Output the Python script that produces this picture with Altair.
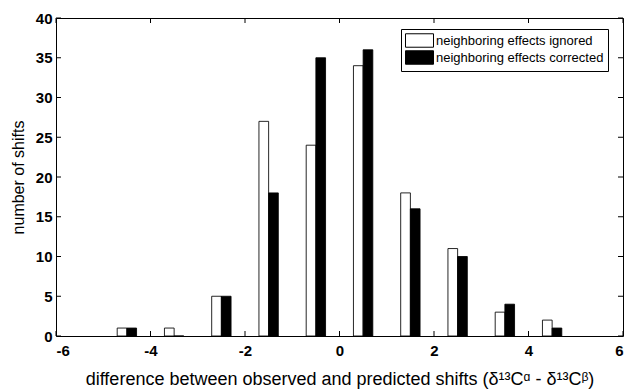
import altair as alt
import pandas as pd

# ---- data ----
centers = [-4.5, -3.5, -2.5, -1.5, -0.5, 0.5, 1.5, 2.5, 3.5, 4.5]
ignored = [1, 1, 5, 27, 24, 34, 18, 11, 3, 2]
corrected = [1, 0, 5, 18, 35, 36, 16, 10, 4, 1]
series_names = ["neighboring effects ignored", "neighboring effects corrected"]
x_ticks = [-6, -4, -2, 0, 2, 4, 6]
y_ticks = [0, 5, 10, 15, 20, 25, 30, 35, 40]

W, H = 567, 318
BAR_W = 0.205
FONT = "Liberation Sans"

rows = []
for c, a, b in zip(centers, ignored, corrected):
    rows.append({"series": series_names[0], "x0": c - BAR_W, "x1": c, "count": a, "base": 0})
    rows.append({"series": series_names[1], "x0": c, "x1": c + BAR_W, "count": b, "base": 0})
df = pd.DataFrame(rows)

xscale = alt.Scale(domain=[-6, 6], nice=False, zero=False)
yscale = alt.Scale(domain=[0, 40], nice=False)

xaxis = alt.Axis(values=x_ticks, ticks=False, domain=False, grid=False,
                 labelExpr="'' + datum.value", labelOverlap=False,
                 labelFontSize=15, labelFontWeight="bold", labelFont=FONT,
                 labelPadding=7, labelColor="black",
                 title="difference between observed and predicted shifts (δ¹³Cᵅ - δ¹³Cᵝ)",
                 titleFont=FONT, titleFontSize=18, titleFontWeight="normal",
                 titlePadding=12, titleColor="black")
yaxis = alt.Axis(values=y_ticks, ticks=False, domain=False, grid=False,
                 labelExpr="'' + datum.value", labelOverlap=False,
                 labelFontSize=15, labelFontWeight="bold", labelFont=FONT,
                 labelPadding=4, labelColor="black",
                 title="number of shifts", titleFont=FONT, titleFontSize=16,
                 titleFontWeight="normal", titlePadding=9, titleColor="black")

bars = alt.Chart(df).mark_rect(stroke="black", strokeWidth=1, strokeOpacity=0.85).encode(
    x=alt.X("x0:Q", scale=xscale, axis=xaxis),
    x2="x1:Q",
    y=alt.Y("count:Q", scale=yscale, axis=yaxis),
    y2="base:Q",
    fill=alt.Fill("series:N", scale=alt.Scale(domain=series_names, range=["white", "black"]),
                  legend=alt.Legend(title=None, orient="none", legendX=345, legendY=11,
                                    labelFont=FONT, labelFontSize=13, labelColor="black",
                                    labelLimit=400,
                                    symbolType="M-1,-0.96H3V0.96H-1Z", symbolSize=196,
                                    symbolStrokeColor="black", symbolStrokeWidth=1,
                                    labelOffset=16, rowPadding=-2, padding=4,
                                    strokeColor="black", fillColor="white")),
)

xt = pd.DataFrame({"v": x_ticks})
yt = pd.DataFrame({"v": y_ticks})

tick_bottom = alt.Chart(xt).mark_rule(color="black", strokeWidth=1).encode(
    x=alt.X("v:Q", scale=xscale, axis=xaxis), y=alt.value(H), y2=alt.value(H - 5))
tick_top = alt.Chart(xt).mark_rule(color="black", strokeWidth=1).encode(
    x=alt.X("v:Q", scale=xscale, axis=xaxis), y=alt.value(0), y2=alt.value(5))
tick_left = alt.Chart(yt).mark_rule(color="black", strokeWidth=1).encode(
    y=alt.Y("v:Q", scale=yscale, axis=yaxis), x=alt.value(0), x2=alt.value(5))
tick_right = alt.Chart(yt).mark_rule(color="black", strokeWidth=1).encode(
    y=alt.Y("v:Q", scale=yscale, axis=yaxis), x=alt.value(W), x2=alt.value(W - 5))

chart = alt.layer(bars, tick_bottom, tick_top, tick_left, tick_right).properties(
    width=W, height=H,
    autosize=alt.AutoSizeParams(type="none"),
    padding={"left": 56, "top": 18, "right": 3, "bottom": 55},
    background="white",
).configure_view(stroke="black", strokeWidth=1)

chart.save("out.html", embed_options={"renderer": "svg", "actions": False})
